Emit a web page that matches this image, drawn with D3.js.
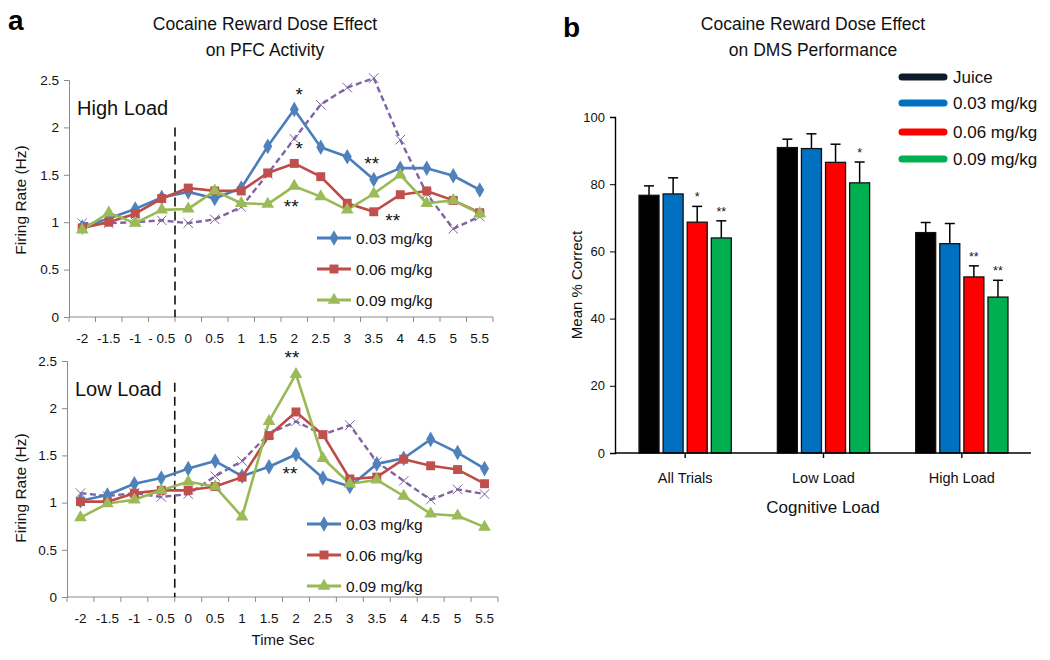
<!DOCTYPE html>
<html>
<head>
<meta charset="utf-8">
<script src="https://cdn.jsdelivr.net/npm/d3@7"></script>
<style>
  body { margin: 0; background: #fff; }
  svg { font-family: "Liberation Sans", Arial, sans-serif; }
</style>
</head>
<body>
<div class="content"></div>
<script>
// Panel a data
const timeLabels = ["-2", "-1.5", "-1", "- 0.5", "0", "0.5", "1", "1.5", "2", "2.5", "3", "3.5", "4", "4.5", "5", "5.5"];
const rateTicks = [0, 0.5, 1, 1.5, 2, 2.5];

const highJuice = [0.99, 0.99, 1.0, 1.02, 0.99, 1.03, 1.16, 1.51, 1.88, 2.24, 2.42, 2.52, 1.87, 1.3, 0.93, 1.06];
const high03 = [0.95, 1.04, 1.14, 1.26, 1.32, 1.25, 1.36, 1.8, 2.19, 1.79, 1.69, 1.45, 1.57, 1.57, 1.49, 1.34];
const high06 = [0.94, 1.0, 1.09, 1.25, 1.36, 1.33, 1.33, 1.52, 1.62, 1.48, 1.2, 1.11, 1.29, 1.33, 1.23, 1.1];
const high09 = [0.92, 1.1, 0.99, 1.13, 1.14, 1.33, 1.2, 1.19, 1.38, 1.27, 1.13, 1.3, 1.5, 1.2, 1.23, 1.09];

const lowJuice = [1.1, 1.07, 1.1, 1.06, 1.09, 1.28, 1.44, 1.73, 1.86, 1.72, 1.82, 1.43, 1.23, 1.03, 1.14, 1.09];
const low03 = [1.02, 1.08, 1.2, 1.26, 1.36, 1.44, 1.28, 1.38, 1.51, 1.26, 1.17, 1.41, 1.47, 1.67, 1.53, 1.36];
const low06 = [1.01, 1.01, 1.1, 1.13, 1.13, 1.17, 1.27, 1.71, 1.96, 1.72, 1.25, 1.27, 1.46, 1.39, 1.35, 1.2];
const low09 = [0.84, 0.99, 1.03, 1.13, 1.22, 1.17, 0.85, 1.86, 2.36, 1.47, 1.2, 1.24, 1.07, 0.88, 0.86, 0.74];

const highStars = [
  { t: "2", v: 2.19, text: "*", dx: 5, dy: -8 },
  { t: "2", v: 1.62, text: "*", dx: 5, dy: -8 },
  { t: "2", v: 1.38, text: "**", dx: -3, dy: 27 },
  { t: "3.5", v: 1.45, text: "**", dx: -2, dy: -10 },
  { t: "3.5", v: 1.11, text: "**", dx: 19, dy: 15 },
];
const lowStars = [
  { t: "2", v: 2.36, text: "**", dx: -4, dy: -10 },
  { t: "2", v: 1.51, text: "**", dx: -6, dy: 26 },
];

// Panel b data
const loads = ["All Trials", "Low Load", "High Load"];
const doses = ["Juice", "0.03 mg/kg", "0.06 mg/kg", "0.09 mg/kg"];
const meanCorrect = {
  "All Trials": [76.7, 77.1, 68.7, 64.0],
  "Low Load": [90.9, 90.6, 86.5, 80.4],
  "High Load": [65.6, 62.3, 52.4, 46.4],
};
const semCorrect = {
  "All Trials": [2.8, 4.8, 4.7, 5.1],
  "Low Load": [2.5, 4.4, 5.4, 6.2],
  "High Load": [3.0, 6.0, 3.3, 5.0],
};
const barStars = {
  "All Trials": ["", "", "*", "**"],
  "Low Load": ["", "", "", "*"],
  "High Load": ["", "", "**", "**"],
};
const correctTicks = [0, 20, 40, 60, 80, 100];

const svg = d3.select(".content").append("svg")
  .attr("width", 1050).attr("height", 660);

// Colours
const lineColors = { juice: "#8064a2", d03: "#4a7ebb", d06: "#be4b48", d09: "#98b954" };
const markerColors = { d03: "#4f81bd", d06: "#c0504d", d09: "#9bbb59" };
const barColors = ["#000000", "#0070c0", "#ff0000", "#00b050"];

// Panel labels & titles
svg.append("text").attr("x", 8).attr("y", 30).attr("font-size", 28).attr("font-weight", "bold").text("a");
svg.append("text").attr("x", 563).attr("y", 37).attr("font-size", 28).attr("font-weight", "bold").text("b");

function title(cx, lines) {
  lines.forEach((l, i) => {
    svg.append("text").attr("x", cx).attr("y", 30 + i * 26)
      .attr("text-anchor", "middle").attr("font-size", 17.5).attr("fill", "#111").text(l);
  });
}
title(265, ["Cocaine Reward Dose Effect", "on PFC Activity"]);
title(813, ["Cocaine Reward Dose Effect", "on DMS Performance"]);

// Line panel
function linePanel(opts) {
  const { xRange, yRange, series, label, stars, dashTop, legendX, legendY } = opts;
  const g = svg.append("g");

  const x = d3.scaleBand().domain(timeLabels).range(xRange).padding(0);
  const y = d3.scaleLinear().domain([0, 2.5]).range(yRange);
  const cx = (t) => x(t) + x.bandwidth() / 2;

  // Y axis
  const yAxis = d3.axisLeft(y).tickValues(rateTicks).tickSize(5).tickPadding(5)
    .tickFormat((d) => String(d));
  const ya = g.append("g").attr("transform", `translate(${xRange[0]},0)`).call(yAxis);
  ya.select(".domain").attr("stroke", "#8a8a8a");
  ya.selectAll(".tick line").attr("stroke", "#8a8a8a");
  ya.selectAll("text").attr("font-size", 13.5).attr("fill", "#111")
    .attr("font-family", "Liberation Sans, Arial, sans-serif");

  // X axis with boundary ticks
  const xa = g.append("g").attr("transform", `translate(0,${yRange[0]})`);
  xa.append("line").attr("x1", xRange[0]).attr("x2", xRange[1]).attr("stroke", "#8a8a8a");
  const bounds = timeLabels.map((t) => x(t)).concat([xRange[1]]);
  xa.selectAll(".bt").data(bounds).join("line")
    .attr("x1", (d) => d).attr("x2", (d) => d).attr("y1", 0).attr("y2", 5).attr("stroke", "#8a8a8a");
  xa.selectAll(".lab").data(timeLabels).join("text")
    .attr("x", (d) => cx(d)).attr("y", 26).attr("text-anchor", "middle")
    .attr("font-size", 13.5).attr("fill", "#111").text((d) => d);

  // Panel label
  g.append("text").attr("x", xRange[0] + 8).attr("y", yRange[1] + 35)
    .attr("font-size", 20).attr("fill", "#111").text(label);

  // dashed event line at time 0
  g.append("line").attr("x1", x("0")).attr("x2", x("0"))
    .attr("y1", y(dashTop)).attr("y2", yRange[0])
    .attr("stroke", "#111").attr("stroke-width", 1.6).attr("stroke-dasharray", "9,5");

  const line = d3.line().x((d, i) => cx(timeLabels[i])).y((d) => y(d));

  series.forEach((s) => {
    g.append("path").datum(s.values)
      .attr("d", line).attr("fill", "none")
      .attr("stroke", s.color).attr("stroke-width", s.dash ? 2.4 : 2.6)
      .attr("stroke-dasharray", s.dash ? "6,3.5" : null)
      .attr("stroke-linejoin", "round");
  });
  series.forEach((s) => {
    const sym = d3.symbol().type(s.symbol).size(s.size);
    g.selectAll(null).data(s.values).join("path")
      .attr("transform", (d, i) => `translate(${cx(timeLabels[i])},${y(d)})`)
      .attr("d", sym)
      .attr("fill", s.stroke ? "none" : s.marker)
      .attr("stroke", s.stroke ? s.color : "none")
      .attr("stroke-width", 1);
  });

  // stars
  g.selectAll(".star").data(stars).join("text")
    .attr("x", (d) => cx(d.t) + d.dx).attr("y", (d) => y(d.v) + d.dy)
    .attr("font-size", 19).attr("fill", "#111").attr("text-anchor", "middle")
    .text((d) => d.text);

  // legend
  const legendSeries = series.filter((s) => !s.dash);
  legendSeries.forEach((s, i) => {
    const ly = legendY + i * 31;
    g.append("line").attr("x1", legendX).attr("x2", legendX + 34).attr("y1", ly).attr("y2", ly)
      .attr("stroke", s.color).attr("stroke-width", 3.2);
    g.append("path").attr("transform", `translate(${legendX + 17},${ly})`)
      .attr("d", d3.symbol().type(s.symbol).size(s.size)()).attr("fill", s.marker);
    g.append("text").attr("x", legendX + 39).attr("y", ly + 5.5)
      .attr("font-size", 15.5).attr("fill", "#111").text(s.name);
  });
}

const xSym = d3.symbolX || d3.symbolCross;
function seriesFor(juice, a, b, c) {
  return [
    { name: "Juice", values: juice, color: lineColors.juice, dash: true, symbol: xSym, size: 60, stroke: true },
    { name: "0.03 mg/kg", values: a, color: lineColors.d03, marker: markerColors.d03, symbol: d3.symbolDiamond, size: 70 },
    { name: "0.06 mg/kg", values: b, color: lineColors.d06, marker: markerColors.d06, symbol: d3.symbolSquare, size: 80 },
    { name: "0.09 mg/kg", values: c, color: lineColors.d09, marker: markerColors.d09, symbol: d3.symbolTriangle, size: 70 },
  ];
}

linePanel({
  xRange: [69, 493], yRange: [317, 80], label: "High Load",
  series: seriesFor(highJuice, high03, high06, high09),
  stars: highStars, dashTop: 2.0, legendX: 317, legendY: 238,
});
linePanel({
  xRange: [67, 498], yRange: [597, 361], label: "Low Load",
  series: seriesFor(lowJuice, low03, low06, low09),
  stars: lowStars, dashTop: 2.27, legendX: 307, legendY: 524,
});

// shared axis titles for panel a
svg.append("text").attr("transform", "translate(26,200) rotate(-90)")
  .attr("text-anchor", "middle").attr("font-size", 15.5).attr("fill", "#111").text("Firing Rate (Hz)");
svg.append("text").attr("transform", "translate(26,488) rotate(-90)")
  .attr("text-anchor", "middle").attr("font-size", 15.5).attr("fill", "#111").text("Firing Rate (Hz)");
svg.append("text").attr("x", 283).attr("y", 645)
  .attr("text-anchor", "middle").attr("font-size", 15).attr("fill", "#111").text("Time Sec");

// Bar panel
const bx = d3.scaleBand().domain(loads).range([616, 1031]).paddingInner(0.333).paddingOuter(0.1665);
const bInner = d3.scaleBand().domain(doses).range([0, bx.bandwidth()]).paddingInner(0.17);
const by = d3.scaleLinear().domain([0, 100]).range([453, 117]);

const bAxisY = svg.append("g").attr("transform", "translate(615,0)")
  .call(d3.axisLeft(by).tickValues(correctTicks).tickSize(5).tickPadding(5));
bAxisY.select(".domain").attr("stroke-width", 1.4);
bAxisY.selectAll("text").attr("font-size", 13).attr("fill", "#111")
  .attr("font-family", "Liberation Sans, Arial, sans-serif");

const bg = svg.append("g");
loads.forEach((load) => {
  const gx = bx(load);
  const vals = meanCorrect[load];
  const errs = semCorrect[load];
  doses.forEach((dose, i) => {
    const x0 = gx + bInner(dose);
    const w = bInner.bandwidth();
    const mid = x0 + w / 2;
    // error bar
    bg.append("line").attr("x1", mid).attr("x2", mid)
      .attr("y1", by(vals[i])).attr("y2", by(vals[i] + errs[i]))
      .attr("stroke", "#000").attr("stroke-width", 1.5);
    bg.append("line").attr("x1", mid - 5).attr("x2", mid + 5)
      .attr("y1", by(vals[i] + errs[i])).attr("y2", by(vals[i] + errs[i]))
      .attr("stroke", "#000").attr("stroke-width", 1.5);
    bg.append("rect").attr("x", x0).attr("y", by(vals[i]))
      .attr("width", w).attr("height", by(0) - by(vals[i]))
      .attr("fill", barColors[i]).attr("stroke", "#111").attr("stroke-width", 1.3);
    if (barStars[load][i]) {
      bg.append("text").attr("x", mid).attr("y", by(vals[i] + errs[i]) - 5)
        .attr("text-anchor", "middle").attr("font-size", 12.5).attr("fill", "#111")
        .text(barStars[load][i]);
    }
  });
});

// X axis for bars
const bAxisX = svg.append("g").attr("transform", "translate(0,453)");
bAxisX.append("line").attr("x1", 615).attr("x2", 1031).attr("stroke", "#000").attr("stroke-width", 1.4);
bAxisX.selectAll(".t").data(loads).join("line")
  .attr("x1", (d) => bx(d) + bx.bandwidth() / 2).attr("x2", (d) => bx(d) + bx.bandwidth() / 2)
  .attr("y1", 0).attr("y2", 5).attr("stroke", "#000").attr("stroke-width", 1.4);
bAxisX.selectAll(".l").data(loads).join("text")
  .attr("x", (d) => bx(d) + bx.bandwidth() / 2).attr("y", 30)
  .attr("text-anchor", "middle").attr("font-size", 14.5).attr("fill", "#111").text((d) => d);

svg.append("text").attr("x", 823).attr("y", 513).attr("text-anchor", "middle")
  .attr("font-size", 17).attr("fill", "#111").text("Cognitive Load");
svg.append("text").attr("transform", "translate(582,285) rotate(-90)")
  .attr("text-anchor", "middle").attr("font-size", 15).attr("fill", "#111").text("Mean % Correct");

// Bar legend
const legendRowY = [77, 103, 132, 159];
doses.forEach((d, i) => {
  svg.append("line").attr("x1", 902).attr("x2", 944)
    .attr("y1", legendRowY[i]).attr("y2", legendRowY[i])
    .attr("stroke", i === 0 ? "#0d1b2a" : barColors[i])
    .attr("stroke-width", 7).attr("stroke-linecap", "round");
  svg.append("text").attr("x", 953).attr("y", legendRowY[i] + 6)
    .attr("font-size", 17).attr("fill", "#111").text(d);
});
</script>
</body>
</html>
